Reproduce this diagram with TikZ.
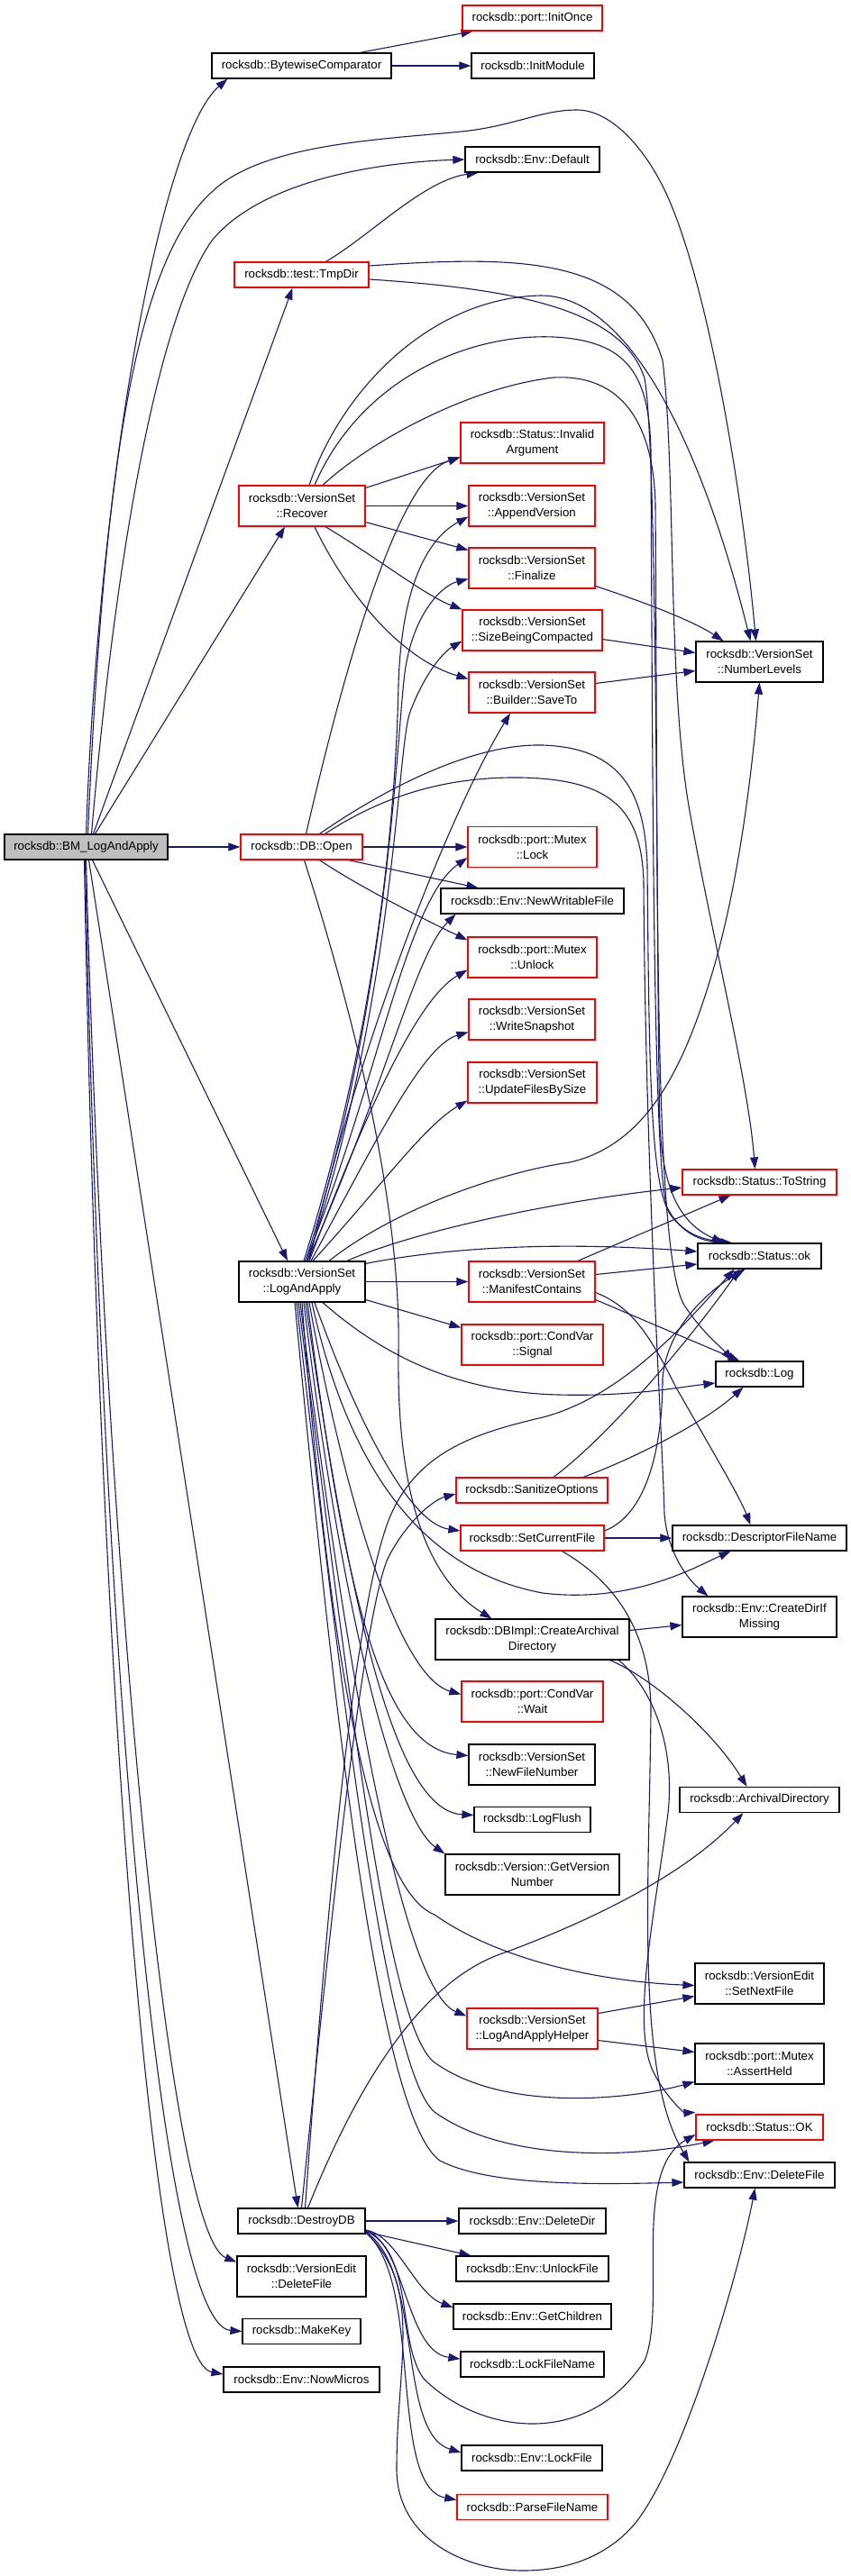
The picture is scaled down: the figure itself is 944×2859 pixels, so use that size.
\documentclass[tikz,border=0pt]{standalone}
\usepackage{fontspec}
\setmainfont{Liberation Sans}
\usepackage{tikz}
\usetikzlibrary{arrows.meta,backgrounds}
\definecolor{edgeblue}{RGB}{25,25,112}
\definecolor{rootgray}{RGB}{191,191,191}
\definecolor{morered}{RGB}{255,0,0}
\tikzset{
  fn/.style={draw=black,fill=white,line width=1.2pt,inner sep=0pt,align=center,
    minimum height=28,font=\fontsize{13.3}{17}\selectfont},
  two/.style={minimum height=45},
  fnmore/.style={fn,draw=morered},
  fnroot/.style={fn,fill=rootgray},
  call/.style={-{Triangle[length=13pt,width=9pt]},line width=1.1pt,draw=edgeblue},
}
\begin{document}
\begin{tikzpicture}[x=1pt,y=1pt]
  \useasboundingbox (0,0) rectangle (944,-2859);
  % functions, left to right, top to bottom
  \node[fnroot,minimum width=181] (BM) at (95.5,-940) {rocksdb::BM\_LogAndApply};
  \node[fn,minimum width=199] (Bytewise) at (334.5,-73) {rocksdb::BytewiseComparator};
  \node[fnmore,minimum width=155] (InitOnce) at (590.5,-20) {rocksdb::port::InitOnce};
  \node[fn,minimum width=136] (InitModule) at (591,-73) {rocksdb::InitModule};
  \node[fn,minimum width=149] (EnvDefault) at (590.5,-177) {rocksdb::Env::Default};
  \node[fnmore,minimum width=149] (TmpDir) at (334.5,-305) {rocksdb::test::TmpDir};
  \node[fnmore,two,minimum width=159] (InvalidArg) at (590.5,-491.5) {rocksdb::Status::Invalid\\Argument};
  \node[fnmore,two,minimum width=140] (Recover) at (335,-561.5) {rocksdb::VersionSet\\::Recover};
  \node[fnmore,two,minimum width=140] (AppendVersion) at (590,-561.5) {rocksdb::VersionSet\\::AppendVersion};
  \node[fnmore,two,minimum width=140] (Finalize) at (590,-630.5) {rocksdb::VersionSet\\::Finalize};
  \node[fnmore,two,minimum width=155] (SizeBeing) at (590.5,-699.5) {rocksdb::VersionSet\\::SizeBeingCompacted};
  \node[fn,two,minimum width=141] (NumberLevels) at (842.5,-734.5) {rocksdb::VersionSet\\::NumberLevels};
  \node[fnmore,two,minimum width=140] (SaveTo) at (590,-768.5) {rocksdb::VersionSet\\::Builder::SaveTo};
  \node[fnmore,minimum width=135] (DBOpen) at (334.5,-940) {rocksdb::DB::Open};
  \node[fnmore,two,minimum width=143] (MutexLock) at (590.5,-940) {rocksdb::port::Mutex\\::Lock};
  \node[fn,minimum width=203] (NewWritable) at (590.5,-1000) {rocksdb::Env::NewWritableFile};
  \node[fnmore,two,minimum width=143] (MutexUnlock) at (590.5,-1062.5) {rocksdb::port::Mutex\\::Unlock};
  \node[fnmore,two,minimum width=140] (WriteSnapshot) at (590,-1131.5) {rocksdb::VersionSet\\::WriteSnapshot};
  \node[fnmore,two,minimum width=143] (UpdateFiles) at (590.5,-1201.5) {rocksdb::VersionSet\\::UpdateFilesBySize};
  \node[fnmore,minimum width=171] (ToString) at (842.5,-1312) {rocksdb::Status::ToString};
  \node[fn,minimum width=137] (Statusok) at (842.5,-1394) {rocksdb::Status::ok};
  \node[fn,two,minimum width=140] (LogAndApply) at (335,-1422.5) {rocksdb::VersionSet\\::LogAndApply};
  \node[fnmore,two,minimum width=140] (Manifest) at (590,-1422.5) {rocksdb::VersionSet\\::ManifestContains};
  \node[fnmore,two,minimum width=157] (CondSignal) at (590.5,-1492.5) {rocksdb::port::CondVar\\::Signal};
  \node[fn,minimum width=97] (Log) at (842.5,-1525) {rocksdb::Log};
  \node[fnmore,minimum width=168] (Sanitize) at (590,-1654) {rocksdb::SanitizeOptions};
  \node[fnmore,minimum width=159] (SetCurrent) at (590.5,-1707) {rocksdb::SetCurrentFile};
  \node[fn,minimum width=193] (DescName) at (842.5,-1707) {rocksdb::DescriptorFileName};
  \node[fn,two,minimum width=171] (CreateDir) at (842.5,-1794.5) {rocksdb::Env::CreateDirIf\\Missing};
  \node[fn,two,minimum width=215] (CreateArch) at (590.5,-1819.5) {rocksdb::DBImpl::CreateArchival\\Directory};
  \node[fnmore,two,minimum width=157] (CondWait) at (590.5,-1888.5) {rocksdb::port::CondVar\\::Wait};
  \node[fn,two,minimum width=140] (NewFileNum) at (590,-1958.5) {rocksdb::VersionSet\\::NewFileNumber};
  \node[fn,minimum width=177] (ArchDir) at (842.5,-1997.5) {rocksdb::ArchivalDirectory};
  \node[fn,minimum width=129] (LogFlush) at (590.5,-2019.5) {rocksdb::LogFlush};
  \node[fn,two,minimum width=193] (GetVersion) at (590.5,-2080.5) {rocksdb::Version::GetVersion\\Number};
  \node[fn,two,minimum width=143] (SetNextFile) at (842.5,-2201.5) {rocksdb::VersionEdit\\::SetNextFile};
  \node[fnmore,two,minimum width=145] (LAAHelper) at (590.5,-2251.5) {rocksdb::VersionSet\\::LogAndApplyHelper};
  \node[fn,two,minimum width=143] (AssertHeld) at (842.5,-2290.5) {rocksdb::port::Mutex\\::AssertHeld};
  \node[fnmore,minimum width=141] (StatusOK) at (842.5,-2361) {rocksdb::Status::OK};
  \node[fn,minimum width=167] (EnvDeleteFile) at (842.5,-2414) {rocksdb::Env::DeleteFile};
  \node[fn,minimum width=141] (DestroyDB) at (334.5,-2465) {rocksdb::DestroyDB};
  \node[fn,minimum width=163] (DeleteDir) at (590.5,-2465) {rocksdb::Env::DeleteDir};
  \node[fn,two,minimum width=143] (VEDeleteFile) at (334.5,-2526.5) {rocksdb::VersionEdit\\::DeleteFile};
  \node[fn,minimum width=169] (UnlockFile) at (590.5,-2518) {rocksdb::Env::UnlockFile};
  \node[fn,minimum width=175] (GetChildren) at (590.5,-2571) {rocksdb::Env::GetChildren};
  \node[fn,minimum width=131] (MakeKey) at (334.5,-2587.5) {rocksdb::MakeKey};
  \node[fn,minimum width=159] (LockFileName) at (590.5,-2624) {rocksdb::LockFileName};
  \node[fn,minimum width=173] (NowMicros) at (334.5,-2641) {rocksdb::Env::NowMicros};
  \node[fn,minimum width=156] (LockFile) at (590,-2728) {rocksdb::Env::LockFile};
  \node[fnmore,minimum width=167] (ParseFileName) at (590.5,-2782.5) {rocksdb::ParseFileName};

  \begin{scope}[on background layer]
  \fill[white] (0,0) rectangle (944,-2859);
  % calls of BM_LogAndApply
  \draw[call] (BM.north) .. controls (110,-520) and (180,-150) .. ([xshift=18]Bytewise.south west);
  \draw[call] ([xshift=2]BM.north) .. controls (115,-520) and (150,-290) .. (235,-213)
    .. controls (290,-160) and (420,-155) .. (512,-146) .. controls (570,-140) and (600,-122) .. (640,-122)
    .. controls (680,-122) and (722,-170) .. (746,-231) .. controls (790,-340) and (825,-560) .. ([xshift=-4]NumberLevels.north);
  \draw[call] ([xshift=6]BM.north) .. controls (125,-650) and (170,-360) .. (235,-267)
    .. controls (290,-200) and (420,-180) .. (EnvDefault.west);
  \draw[call] ([xshift=8]BM.north) -- ([xshift=-10]TmpDir.south);
  \draw[call] ([xshift=10]BM.north) -- ([xshift=-19]Recover.south);
  \draw[call] (BM.east) -- (DBOpen.west);
  \draw[call] ([xshift=7]BM.south) -- ([xshift=-16]LogAndApply.north);
  \draw[call] ([xshift=3]BM.south) -- ([xshift=-4]DestroyDB.north);
  \draw[call] (BM.south) .. controls (115,-1700) and (185,-2480) .. ([yshift=16]VEDeleteFile.west);
  \draw[call] ([xshift=-1]BM.south) .. controls (112,-1800) and (175,-2580) .. (MakeKey.west);
  \draw[call] ([xshift=-2]BM.south) .. controls (108,-1800) and (165,-2620) .. ([yshift=6]NowMicros.west);
  % BytewiseComparator
  \draw[call] ([xshift=65]Bytewise.north) -- ([xshift=-66]InitOnce.south);
  \draw[call] (Bytewise.east) -- (InitModule.west);
  % TmpDir
  \draw[call] ([xshift=27]TmpDir.north) .. controls (410,-262) and (470,-200) .. ([xshift=-60]EnvDefault.south);
  \draw[call] ([yshift=10]TmpDir.east) .. controls (580,-283) and (700,-285) .. (735,-400)
    .. controls (750,-520) and (740,-760) .. (765,-900) .. controls (790,-1040) and (830,-1200) .. ([xshift=-5]ToString.north);
  \draw[call] ([yshift=-5]TmpDir.east) .. controls (560,-320) and (690,-340) .. (715,-420)
    .. controls (730,-500) and (728,-1100) .. (732,-1250) .. controls (736,-1330) and (760,-1360) .. ([xshift=-40]Statusok.north);
  % VersionSet::Recover
  \draw[call] ([yshift=20]Recover.east) -- ([yshift=-16]InvalidArg.west);
  \draw[call] (Recover.east) -- (AppendVersion.west);
  \draw[call] ([yshift=-18]Recover.east) -- ([yshift=20]Finalize.west);
  \draw[call] ([xshift=26]Recover.south) .. controls (420,-620) and (470,-660) .. (SizeBeing.north west);
  \draw[call] ([xshift=14]Recover.south) .. controls (380,-650) and (440,-730) .. ([yshift=15]SaveTo.west);
  \draw[call] ([xshift=8]Recover.north) .. controls (380,-430) and (480,-330) .. (600,-328)
    .. controls (700,-328) and (780,-500) .. ([xshift=-10]NumberLevels.north);
  \draw[call] ([xshift=14]Recover.north) .. controls (400,-420) and (520,-370) .. (614,-374)
    .. controls (700,-378) and (720,-420) .. (722,-500) .. controls (724,-900) and (725,-1300) .. (740,-1340)
    .. controls (755,-1370) and (780,-1375) .. ([xshift=-35]Statusok.north);
  \draw[call] ([xshift=23]Recover.north) .. controls (410,-490) and (520,-430) .. (614,-419)
    .. controls (690,-415) and (725,-470) .. (727,-560) .. controls (730,-1000) and (725,-1400) .. (760,-1450)
    .. controls (780,-1480) and (800,-1495) .. ([xshift=-30]Log.north);
  \draw[call] ([yshift=-20]Finalize.east) .. controls (720,-670) and (770,-690) .. ([xshift=-40]NumberLevels.north);
  \draw[call] ([yshift=-10]SizeBeing.east) -- ([yshift=10]NumberLevels.west);
  \draw[call] ([yshift=10]SaveTo.east) -- ([yshift=-10]NumberLevels.west);
  % DB::Open
  \draw[call] (DBOpen.east) -- (MutexLock.west);
  \draw[call] ([xshift=52]DBOpen.south) -- ([xshift=-60]NewWritable.north);
  \draw[call] ([xshift=20]DBOpen.south) .. controls (400,-985) and (470,-1020) .. ([yshift=-4]MutexUnlock.north west);
  \draw[call] ([xshift=3]DBOpen.south) .. controls (400,-1150) and (445,-1350) .. (442,-1500)
    .. controls (440,-1650) and (470,-1750) .. ([xshift=-45]CreateArch.north);
  \draw[call] ([xshift=5]DBOpen.north) .. controls (380,-750) and (440,-530) .. ([yshift=-16]InvalidArg.west);
  \draw[call] ([xshift=20]DBOpen.north) .. controls (420,-880) and (520,-825) .. (602,-827)
    .. controls (690,-830) and (715,-880) .. (718,-960) .. controls (720,-1200) and (722,-1320) .. (745,-1350)
    .. controls (765,-1375) and (785,-1378) .. ([xshift=-30]Statusok.north);
  \draw[call] ([xshift=26]DBOpen.north) .. controls (430,-880) and (500,-862) .. (578,-863)
    .. controls (680,-865) and (712,-900) .. (714,-980) .. controls (716,-1300) and (735,-1600) .. (737,-1680)
    .. controls (740,-1720) and (760,-1750) .. ([xshift=-57]CreateDir.north);
  % VersionSet::LogAndApply, upwards
  \draw[call] ([xshift=2]LogAndApply.north) .. controls (430,-1100) and (440,-850) .. (442,-760)
    .. controls (445,-660) and (470,-600) .. ([yshift=-12]AppendVersion.west);
  \draw[call] ([xshift=4]LogAndApply.north) .. controls (435,-1100) and (440,-800) .. (450,-740)
    .. controls (460,-680) and (490,-650) .. ([yshift=-12]Finalize.west);
  \draw[call] ([xshift=6]LogAndApply.north) .. controls (440,-1100) and (440,-830) .. (455,-790)
    .. controls (470,-750) and (490,-725) .. ([yshift=-12]SizeBeing.west);
  \draw[call] ([xshift=8]LogAndApply.north) .. controls (400,-1150) and (500,-900) .. ([xshift=-24]SaveTo.south);
  \draw[call] ([xshift=4]LogAndApply.north) .. controls (420,-1200) and (450,-1000) .. ([yshift=-12]MutexLock.west);
  \draw[call] ([xshift=6]LogAndApply.north) .. controls (430,-1200) and (460,-1060) .. ([xshift=-85]NewWritable.south);
  \draw[call] ([xshift=8]LogAndApply.north) .. controls (400,-1250) and (460,-1110) .. ([yshift=-14]MutexUnlock.west);
  \draw[call] ([xshift=10]LogAndApply.north) .. controls (420,-1260) and (470,-1160) .. ([yshift=-14]WriteSnapshot.west);
  \draw[call] ([xshift=12]LogAndApply.north) .. controls (420,-1320) and (470,-1250) .. ([yshift=-20]UpdateFiles.west);
  \draw[call] ([xshift=30]LogAndApply.north) .. controls (440,-1340) and (560,-1300) .. (632,-1290)
    .. controls (720,-1270) and (760,-1180) .. (790,-1080) .. controls (820,-980) and (835,-850) .. (NumberLevels.south);
  \draw[call] ([xshift=50]LogAndApply.north) .. controls (450,-1370) and (600,-1335) .. ([yshift=-6]ToString.west);
  \draw[call] ([yshift=-3]LogAndApply.north east) .. controls (520,-1380) and (650,-1380) .. ([yshift=5]Statusok.west);
  % VersionSet::LogAndApply, sideways and downwards
  \draw[call] (LogAndApply.east) -- (Manifest.west);
  \draw[call] ([yshift=-20]LogAndApply.east) -- ([yshift=-4]CondSignal.north west);
  \draw[call] ([xshift=23]LogAndApply.south) .. controls (420,-1500) and (500,-1545) .. (620,-1548)
    .. controls (700,-1550) and (750,-1540) .. ([yshift=-10]Log.west);
  \draw[call] ([xshift=14]LogAndApply.south) .. controls (390,-1560) and (450,-1690) .. ([yshift=8]SetCurrent.west);
  \draw[call] ([xshift=11]LogAndApply.south) .. controls (380,-1600) and (450,-1740) .. (602,-1768)
    .. controls (700,-1780) and (770,-1740) .. ([xshift=-32]DescName.south);
  \draw[call] ([xshift=8]LogAndApply.south) .. controls (380,-1650) and (440,-1860) .. ([yshift=8]CondWait.west);
  \draw[call] ([xshift=6]LogAndApply.south) .. controls (380,-1750) and (420,-1940) .. ([yshift=10]NewFileNum.west);
  \draw[call] ([xshift=4]LogAndApply.south) .. controls (390,-1800) and (440,-2010) .. ([yshift=5]LogFlush.west);
  \draw[call] ([xshift=2]LogAndApply.south) .. controls (380,-1800) and (440,-2020) .. (GetVersion.north west);
  \draw[call] (LogAndApply.south) .. controls (370,-1900) and (420,-2100) .. (482,-2125)
    .. controls (560,-2180) and (680,-2200) .. ([yshift=-2]SetNextFile.west);
  \draw[call] ([xshift=-2]LogAndApply.south) .. controls (390,-1900) and (450,-2210) .. ([yshift=14]LAAHelper.west);
  \draw[call] ([xshift=-4]LogAndApply.south) .. controls (390,-1900) and (430,-2250) .. (482,-2289)
    .. controls (560,-2345) and (700,-2330) .. ([yshift=-20]AssertHeld.west);
  \draw[call] ([xshift=-6]LogAndApply.south) .. controls (380,-1900) and (430,-2300) .. (482,-2344)
    .. controls (560,-2400) and (700,-2395) .. ([xshift=-50]StatusOK.south);
  \draw[call] ([xshift=-8]LogAndApply.south) .. controls (370,-1900) and (420,-2350) .. (488,-2398)
    .. controls (540,-2425) and (650,-2425) .. ([yshift=-8]EnvDeleteFile.west);
  % VersionSet::ManifestContains
  \draw[call] ([xshift=51]Manifest.north) -- ([xshift=-32]ToString.south);
  \draw[call] ([yshift=8]Manifest.east) -- ([yshift=-9]Statusok.west);
  \draw[call] ([yshift=-20]Manifest.east) -- ([xshift=-22]Log.north);
  \draw[call] ([yshift=-12]Manifest.east) .. controls (700,-1450) and (720,-1480) .. (750,-1540)
    .. controls (790,-1610) and (820,-1660) .. ([xshift=-10]DescName.north);
  % SanitizeOptions, SetCurrentFile
  \draw[call] ([xshift=24]Sanitize.north) .. controls (680,-1590) and (770,-1480) .. ([xshift=-22]Statusok.south);
  \draw[call] ([xshift=57]Sanitize.north) .. controls (700,-1620) and (780,-1580) .. ([xshift=-18]Log.south);
  \draw[call] (SetCurrent.east) -- (DescName.west);
  \draw[call] ([yshift=8]SetCurrent.east) .. controls (720,-1680) and (735,-1600) .. (735,-1530)
    .. controls (740,-1470) and (790,-1430) .. ([xshift=-16]Statusok.south);
  \draw[call] ([xshift=33]SetCurrent.south) .. controls (690,-1760) and (722,-1820) .. (722,-1900)
    .. controls (720,-2100) and (705,-2300) .. ([xshift=-78]EnvDeleteFile.north);
  % DBImpl::CreateArchivalDirectory
  \draw[call] ([yshift=10]CreateArch.east) -- ([yshift=-9]CreateDir.west);
  \draw[call] ([xshift=86]CreateArch.south) .. controls (720,-1860) and (790,-1920) .. ([xshift=-14]ArchDir.north);
  \draw[call] ([xshift=96]CreateArch.south) .. controls (730,-1880) and (750,-1950) .. (740,-2020)
    .. controls (725,-2130) and (700,-2250) .. (725,-2300) .. controls (740,-2330) and (760,-2345) .. ([yshift=2]StatusOK.north west);
  % VersionSet::LogAndApplyHelper
  \draw[call] ([yshift=17]LAAHelper.east) -- ([yshift=-14]SetNextFile.west);
  \draw[call] ([yshift=-13]LAAHelper.east) -- ([yshift=13]AssertHeld.west);
  % DestroyDB
  \draw[call] (DestroyDB.east) -- (DeleteDir.west);
  \draw[call] ([yshift=-12]DestroyDB.east) -- ([xshift=-68]UnlockFile.north);
  \draw[call] ([yshift=-10]DestroyDB.east) .. controls (440,-2480) and (460,-2545) .. ([yshift=10]GetChildren.west);
  \draw[call] ([yshift=-10]DestroyDB.east) .. controls (450,-2490) and (450,-2610) .. ([yshift=6]LockFileName.west);
  \draw[call] ([yshift=-12]DestroyDB.east) .. controls (470,-2520) and (440,-2700) .. ([yshift=6]LockFile.west);
  \draw[call] ([yshift=-13]DestroyDB.east) .. controls (470,-2530) and (430,-2760) .. ([yshift=8]ParseFileName.west);
  \draw[call] ([yshift=-11]DestroyDB.east) .. controls (460,-2500) and (440,-2600) .. (470,-2640)
    .. controls (530,-2700) and (650,-2720) .. (715,-2620) .. controls (740,-2560) and (700,-2410) .. ([yshift=-8]StatusOK.west);
  \draw[call] ([yshift=-12]DestroyDB.east) .. controls (470,-2540) and (440,-2620) .. (440,-2740)
    .. controls (440,-2820) and (520,-2853) .. (580,-2853) .. controls (640,-2853) and (680,-2830) .. (705,-2800)
    .. controls (760,-2730) and (820,-2520) .. ([xshift=-5]EnvDeleteFile.south);
  \draw[call] (DestroyDB.north) .. controls (360,-2200) and (400,-1800) .. (430,-1730)
    .. controls (450,-1690) and (480,-1665) .. ([yshift=-4]Sanitize.west);
  \draw[call] ([xshift=4]DestroyDB.north) .. controls (360,-2150) and (390,-1800) .. (430,-1690)
    .. controls (460,-1610) and (530,-1590) .. (602,-1573) .. controls (690,-1550) and (760,-1470) .. ([xshift=-28]Statusok.south);
  \draw[call] ([xshift=7]DestroyDB.north) .. controls (390,-2330) and (460,-2200) .. (560,-2167)
    .. controls (660,-2130) and (760,-2080) .. ([xshift=-18]ArchDir.south);
  \end{scope}
\end{tikzpicture}
\end{document}
